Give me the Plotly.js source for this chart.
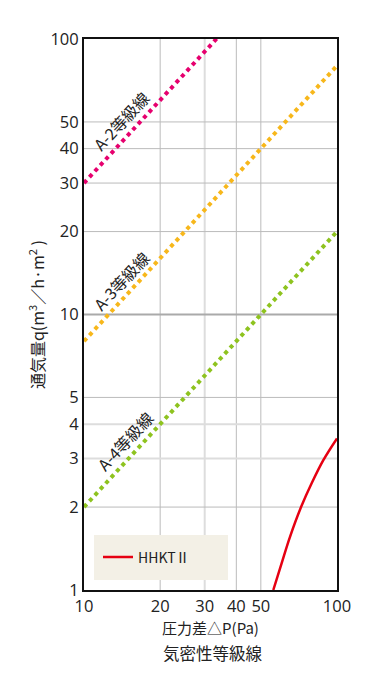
<!DOCTYPE html>
<html><head><meta charset="utf-8">
<script src="https://cdn.plot.ly/plotly-3.0.1.min.js"></script>
<style>html,body{margin:0;padding:0;background:#fff}#chart{width:388px;height:690px}</style>
</head><body><div id="chart"></div>
<script>
// Grade lines (pressure difference Pa vs airflow m3/h·m2)
const pressure = [10, 100];
const gradeA2 = [30, 300];
const gradeA3 = [8, 80];
const gradeA4 = [2, 20];
// Measured product curve
const hhktPressure = [56, 60.4, 65.2, 72.1, 79.4, 88.3, 100];
const hhktFlow = [1.0, 1.25, 1.56, 2.0, 2.44, 2.96, 3.55];
// Ticks
const xTicks = [10, 20, 30, 40, 50, 100];
const yTicks = [1, 2, 3, 4, 5, 10, 20, 30, 40, 50, 100];
// Gridlines
const xGridNormal = [20, 40, 50];
const xGridLight = [30];
const yGridNormal = [2, 5, 20, 30, 40, 50];
const yGridLight = [3, 4];
const yGridBold = [10];
// Labels
const gradeNames = ['A-2等級線', 'A-3等級線', 'A-4等級線'];
const legendName = 'HHKTⅡ';

const FONT = '"Open Sans", "Noto Sans CJK JP", sans-serif';
const CJK = '"Noto Sans CJK JP", "Open Sans", sans-serif';
const dotW = 4;
const traces = [
  {x: pressure, y: gradeA2, mode: 'lines', line: {color: '#e6006e', width: dotW, dash: 'dot'}, showlegend: false, hoverinfo: 'skip'},
  {x: pressure, y: gradeA3, mode: 'lines', line: {color: '#f7b71b', width: dotW, dash: 'dot'}, showlegend: false, hoverinfo: 'skip'},
  {x: pressure, y: gradeA4, mode: 'lines', line: {color: '#8ec31f', width: dotW, dash: 'dot'}, showlegend: false, hoverinfo: 'skip'},
  {x: hhktPressure, y: hhktFlow, mode: 'lines', name: legendName, line: {color: '#e60012', width: 2.5, shape: 'spline'}}
];

const shapes = [];
function vline(v, color, w) { shapes.push({type: 'line', xref: 'x', yref: 'paper', x0: v, x1: v, y0: 0, y1: 1, line: {color: color, width: w}, layer: 'below'}); }
function hline(v, color, w) { shapes.push({type: 'line', xref: 'paper', yref: 'y', y0: v, y1: v, x0: 0, x1: 1, line: {color: color, width: w}, layer: 'below'}); }
xGridNormal.forEach(v => vline(v, '#bbbbbb', 1));
xGridLight.forEach(v => vline(v, '#dddddd', 2));
yGridNormal.forEach(v => hline(v, '#bbbbbb', 1));
yGridLight.forEach(v => hline(v, '#dddddd', 2));
yGridBold.forEach(v => hline(v, '#aaaaaa', 2));
// legend box
shapes.push({type: 'rect', xref: 'paper', yref: 'paper', x0: 10/253, x1: 144/253, y0: 10/551, y1: 55/551, fillcolor: '#f3f0e6', line: {width: 0}, layer: 'below'});

const annPos = [[0.146, 0.851], [0.146, 0.561], [0.162, 0.270]];
const annotations = gradeNames.map((t, i) => ({
  text: t, xref: 'paper', yref: 'paper', x: annPos[i][0], y: annPos[i][1], showarrow: false,
  textangle: -47, font: {family: CJK, size: 16, color: '#222'}, xanchor: 'center', yanchor: 'middle'
}));
annotations.push({text: '気密性等級線', xref: 'paper', yref: 'paper', x: (213-84)/253, y: (590-653)/551, showarrow: false,
  font: {family: CJK, size: 16.5, color: '#222'}, xanchor: 'center', yanchor: 'middle'});

const layout = {
  width: 388, height: 690,
  margin: {l: 84, r: 51, t: 39, b: 100},
  paper_bgcolor: '#fff', plot_bgcolor: 'rgba(0,0,0,0)',
  font: {family: FONT, size: 16, color: '#222'},
  xaxis: {type: 'log', range: [1, 2], tickvals: xTicks, ticktext: xTicks.map(String), showgrid: false, zeroline: false,
    showline: true, mirror: true, linecolor: '#111', linewidth: 2, ticks: '', tickfont: {size: 16.5},
    title: {text: '圧力差△P(Pa)', font: {family: CJK, size: 15}, standoff: 8}},
  yaxis: {type: 'log', range: [0, 2], tickvals: yTicks, ticktext: yTicks.map(String), showgrid: false, zeroline: false,
    showline: true, mirror: true, linecolor: '#111', linewidth: 2, ticks: '', tickfont: {size: 16.5},
    title: {text: '通気量q(m<sup>3</sup>／h·m<sup>2</sup> )', font: {family: CJK, size: 16}, standoff: 2}},
  showlegend: true,
  legend: {x: 14/253, y: 32.5/551, xanchor: 'left', yanchor: 'middle', bgcolor: 'rgba(0,0,0,0)', font: {family: CJK, size: 14, color: '#222'}},
  shapes: shapes, annotations: annotations
};
Plotly.newPlot('chart', traces, layout, {staticPlot: true});
</script></body></html>
